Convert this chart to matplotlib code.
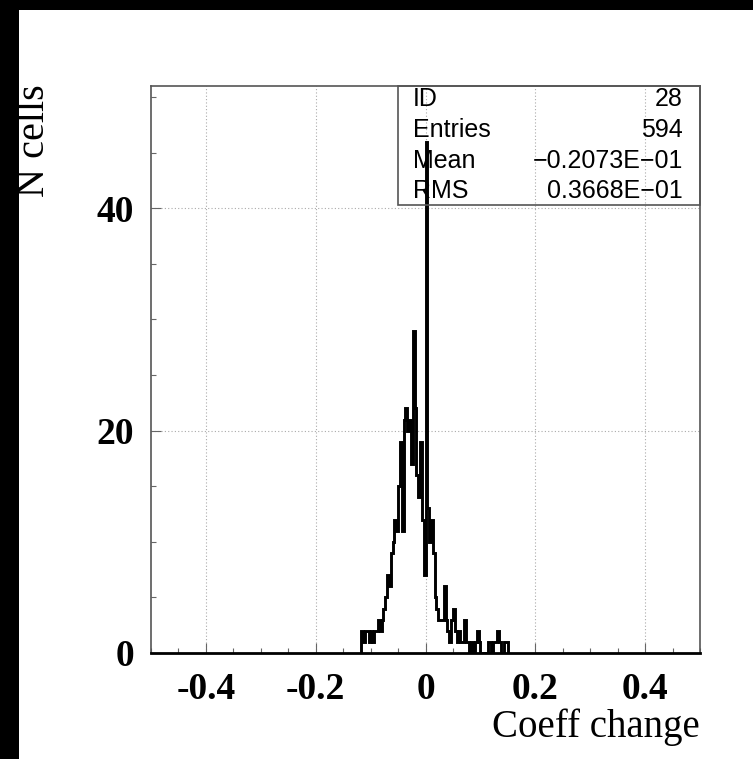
import numpy as np
import matplotlib
matplotlib.use("Agg")
import matplotlib.pyplot as plt
from matplotlib.patches import Rectangle
from matplotlib.ticker import MultipleLocator

# histogram booking: 300 bins on [-0.5, 0.5], only the filled bins are listed
n_bins = 300
x_lo, x_hi = -0.5, 0.5
first_bin = 115
counts = [2, 1, 2, 2, 1, 2, 1, 2, 2, 3,
          2, 3, 4, 5, 7, 6, 9, 10, 12, 11,
          15, 19, 11, 21, 22, 20, 21, 17, 29, 22,
          16, 14, 19, 12, 7, 46, 13, 10, 12, 9,
          5, 4, 3, 3, 3, 6, 3, 2, 1, 3,
          4, 2, 1, 2, 1, 1, 3, 1, 1, 0,
          1, 0, 1, 2, 1, 0, 0, 0, 0, 1,
          1, 0, 1, 1, 2, 1, 0, 0, 1, 1]

x_ticks = [-0.4, -0.2, 0.0, 0.2, 0.4]
x_tick_labels = ["-0.4", "-0.2", "0", "0.2", "0.4"]
y_ticks = [0, 20, 40]
y_tick_labels = ["0", "20", "40"]

stats_names = ["ID", "Entries", "Mean", "RMS"]
stats_values = ["28", "594", "\u22120.2073E\u221201", "0.3668E\u221201"]

W, H = 753, 759
fig = plt.figure(figsize=(W / 100, H / 100), dpi=100, facecolor="black")
fig.patches.append(Rectangle((19 / W, 0), 1, (H - 10) / H, transform=fig.transFigure,
                             facecolor="white", edgecolor="none", zorder=-5))

ax = fig.add_axes([151 / W, (H - 653) / H, 549 / W, 567 / H])
ax.set_facecolor("none")
ax.set_zorder(2)

width = (x_hi - x_lo) / n_bins
edges = x_lo + width * np.arange(first_bin, first_bin + len(counts) + 1)
ax.stairs(counts, edges, color="black", linewidth=2.1, baseline=0, zorder=3)

ax.set_xlim(x_lo, x_hi)
ax.set_ylim(0, 51)

ax.set_xticks(x_ticks)
ax.set_xticklabels(x_tick_labels)
ax.set_yticks(y_ticks)
ax.set_yticklabels(y_tick_labels)
ax.xaxis.set_minor_locator(MultipleLocator(0.05))
ax.yaxis.set_minor_locator(MultipleLocator(5))

for lab in ax.get_xticklabels() + ax.get_yticklabels():
    lab.set_fontfamily("Liberation Serif")
    lab.set_fontweight("bold")
    lab.set_fontsize(27)

ax.tick_params(which="both", direction="in", colors="#666666", labelcolor="black")
ax.tick_params(which="major", length=7, width=0.8)
ax.tick_params(which="minor", length=3.5, width=0.8)
ax.tick_params(axis="x", pad=14)
ax.tick_params(axis="y", pad=12)

ax.grid(True, which="major", color="#aaaaaa", linestyle=(0, (1, 2)), linewidth=0.8)
ax.set_axisbelow(True)

for side in ["left", "top", "right"]:
    ax.spines[side].set_color("#555555")
    ax.spines[side].set_linewidth(1.2)
ax.spines["bottom"].set_color("black")
ax.spines["bottom"].set_linewidth(2)

# stats box in the upper right corner
bx0 = (397.7 - 151) / 549
by0 = (653 - 205) / 567
ax.add_patch(Rectangle((bx0, by0), 1 - bx0, 1 - by0, transform=ax.transAxes,
                       facecolor="none", edgecolor="#555555", linewidth=1.2,
                       zorder=4, clip_on=False))
row_base = [106.5, 137, 167.5, 198]
for name, val, yb in zip(stats_names, stats_values, row_base):
    yy = (653 - yb) / 567
    ax.text((413 - 151) / 549, yy, name, transform=ax.transAxes, ha="left",
            va="baseline", family="Liberation Sans", size=18, zorder=5)
    ax.text((683 - 151) / 549, yy, val, transform=ax.transAxes, ha="right",
            va="baseline", family="Liberation Sans", size=18, zorder=5)

fig.text(700 / W, (H - 737) / H, "Coeff change", ha="right", va="baseline",
         family="Liberation Serif", size=28)
fig.text(34 / W, (H - 141) / H, "N cells", ha="center", va="center",
         rotation=90, family="Liberation Serif", size=29)

fig.savefig("out.png", dpi=100, facecolor=fig.get_facecolor())
